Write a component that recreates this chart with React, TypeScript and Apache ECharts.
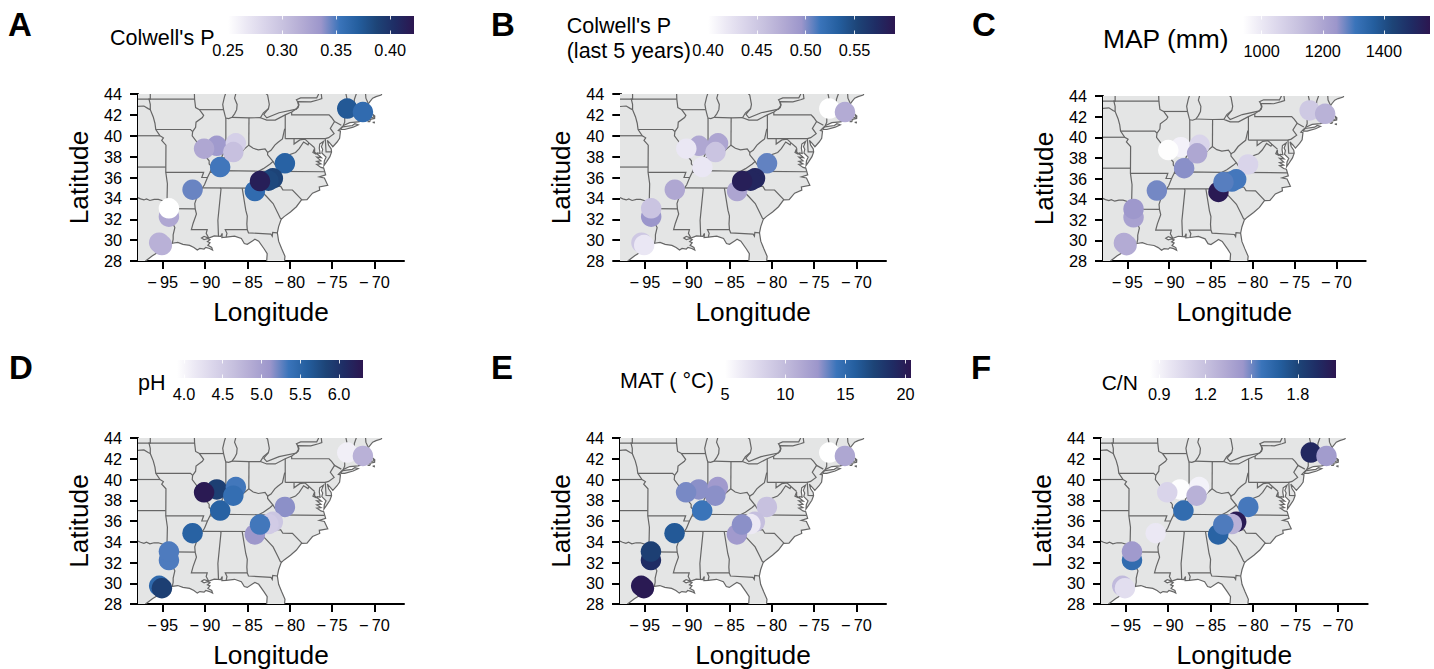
import React, { useEffect, useRef } from "react";
import * as echarts from "echarts";

const FONT = "'Liberation Sans', Arial, sans-serif";

// Colour ramp, evenly spaced from low to high
const ramp = ["#ffffff", "#ebe8f4", "#d9d4ea", "#c7c1df", "#b3abd4", "#9c96cb", "#3a74ba", "#245e9e", "#1d4477", "#1f2c64", "#2c1650"];

// Sites (longitude, latitude)
const siteLon = [-73.2, -71.35, -80.56, -81.98, -82.5, -83.5, -84.1, -91.46, -88.2, -90.1, -88.6, -86.35, -86.65, -94.25, -94.25, -95.4, -95.08];
const siteLat = [42.6, 42.27, 37.36, 35.92, 35.7, 35.66, 34.7, 34.83, 37.0, 38.76, 39.04, 39.27, 38.44, 33.05, 32.24, 29.75, 29.53];
const drawOrder = [0, 1, 2, 3, 4, 6, 5, 7, 8, 10, 9, 11, 12, 14, 13, 15, 16];

// Panel values, same site order
const colwellP = [0.374, 0.36, 0.367, 0.388, 0.385, 0.415, 0.36, 0.345, 0.352, 0.322, 0.333, 0.288, 0.302, 0.25, 0.322, 0.314, 0.314];
const colwellP5 = [0.4, 0.477, 0.507, 0.578, 0.578, 0.584, 0.482, 0.48, 0.42, 0.42, 0.48, 0.482, 0.454, 0.454, 0.496, 0.45, 0.42];
const mapMm = [1098, 1165, 1061, 1300, 1300, 1288, 1540, 1270, 1257, 942, 975, 1061, 1196, 1239, 1214, 1184, 1184];
const pH = [4.08, 4.8, 5.15, 4.56, 4.5, 5.33, 5.1, 5.55, 5.55, 6.27, 5.88, 5.33, 5.42, 5.3, 5.3, 5.47, 5.88];
const matC = [5, 11.5, 9.6, 9.8, 6.5, 13, 12.4, 16.1, 14.3, 13.3, 13, 12.4, 13, 17.7, 18.9, 20.1, 20.2];
const cn = [1.95, 1.41, 1.55, 2.02, 1.29, 1.54, 1.66, 0.96, 1.61, 1.08, 0.85, 0.91, 1.29, 1.42, 1.61, 1.24, 1.02];

// Axis ticks
const lonTicks = [-95, -90, -85, -80, -75, -70];
const latTicks = [28, 30, 32, 34, 36, 38, 40, 42, 44];
const ticksA = [0.25, 0.3, 0.35, 0.4];
const ticksB = [0.4, 0.45, 0.5, 0.55];
const ticksC = [1000, 1200, 1400];
const ticksD = [4, 4.5, 5, 5.5, 6];
const ticksE = [5, 10, 15, 20];
const ticksF = [0.9, 1.2, 1.5, 1.8];

// Base map, [lon, lat]
const coast = [[-69, 44.2], [-69.2, 43.9], [-69.8, 43.75], [-70.2, 43.6], [-70.55, 43.25], [-70.7, 43.07], [-70.82, 42.85], [-70.6, 42.65], [-71, 42.32], [-70.7, 42.2], [-70.6, 41.95], [-70.3, 41.74], [-70.03, 41.8], [-70.2, 42.07], [-69.95, 41.9], [-69.97, 41.66], [-70.6, 41.55], [-71, 41.5], [-71.2, 41.5], [-71.35, 41.75], [-71.45, 41.42], [-71.9, 41.32], [-72.9, 41.25], [-73.65, 40.98], [-74, 40.7], [-74.25, 40.5], [-74, 40.45], [-74.1, 39.75], [-74.4, 39.4], [-74.9, 38.95], [-75.2, 39.25], [-75.55, 39.55], [-75.4, 39.1], [-75.1, 38.75], [-75.05, 38.45], [-75.25, 38.0], [-75.65, 37.5], [-75.95, 37.15], [-75.9, 37.6], [-75.7, 37.95], [-76.2, 38.35], [-76.1, 38.7], [-76.25, 38.95], [-76, 39.45], [-76.45, 39.2], [-76.5, 38.8], [-76.4, 38.3], [-76.7, 38.35], [-76.9, 38.25], [-77.25, 38.4], [-77.05, 38.8], [-77.05, 38.42], [-76.6, 38.15], [-76.25, 37.9], [-76.8, 37.95], [-76.3, 37.6], [-76.8, 37.55], [-76.3, 37.3], [-76.8, 37.25], [-76.3, 36.97], [-75.98, 36.9], [-75.75, 36.25], [-76.5, 36.05], [-75.9, 35.95], [-75.5, 35.25], [-76.5, 35.1], [-76.45, 34.8], [-77.3, 34.5], [-77.95, 33.87], [-78.6, 33.85], [-79.2, 33.2], [-79.9, 32.7], [-80.65, 32.25], [-81, 32], [-81.3, 31.3], [-81.45, 30.7], [-81.3, 29.9], [-80.95, 29.2], [-80.55, 28.45], [-80.6, 28.05], [-80.35, 27.5], [-82.75, 27.5], [-82.65, 28.7], [-83, 29.15], [-83.65, 29.9], [-84.1, 30.08], [-84.35, 29.95], [-85, 29.6], [-85.35, 29.68], [-85.7, 30.15], [-86.5, 30.38], [-87.5, 30.28], [-88, 30.25], [-87.95, 30.65], [-88.15, 30.35], [-88.9, 30.4], [-89.55, 30.2], [-90.1, 30.35], [-90.4, 30.2], [-90.1, 30.05], [-89.7, 30.15], [-89.4, 30.05], [-89.7, 29.85], [-89.4, 29.75], [-89.65, 29.5], [-89.2, 29.3], [-89.1, 29.05], [-89.45, 29.2], [-89.9, 29.3], [-90.1, 29.15], [-90.6, 29.2], [-90.9, 29.05], [-91.3, 29.3], [-91.8, 29.5], [-92.2, 29.55], [-92.6, 29.6], [-93.2, 29.78], [-93.85, 29.7], [-94.7, 29.35], [-95.2, 29], [-96.2, 28.5], [-97, 28], [-97.3, 27.5], [-99, 27.5], [-99, 45], [-69, 45], [-69, 44.2]];
const longIsland = [[-74.03, 40.6], [-73.75, 40.85], [-72.6, 40.98], [-72.3, 41.15], [-71.9, 41.05], [-72.5, 40.82], [-73.5, 40.6], [-74.03, 40.6]];
const islands = [[[-70.8, 41.36], [-70.5, 41.42], [-70.55, 41.35], [-70.8, 41.36]], [[-70.2, 41.28], [-70, 41.3], [-70, 41.24], [-70.2, 41.28]]];

const borders = [
  coast.slice(0, 123),
  [[-98, 42.8], [-97.2, 42.85], [-96.7, 42.6], [-96.45, 42.5]],
  [[-96.45, 44.2], [-96.45, 43.5], [-96.6, 43.5], [-96.45, 43], [-96.45, 42.5], [-96.1, 41.8], [-95.9, 41.2], [-95.8, 40.6], [-95.3, 40], [-94.9, 39.8], [-95.1, 39.55], [-94.6, 39.1], [-94.62, 36.5], [-94.43, 35.4], [-94.48, 33.64]],
  [[-98, 43.5], [-91.22, 43.5]],
  [[-98, 40], [-95.3, 40]],
  [[-98, 37], [-94.62, 37]],
  [[-94.62, 36.5], [-90.15, 36.5], [-90.37, 36], [-89.7, 36]],
  [[-91.25, 44.2], [-91.22, 43.5], [-91.1, 42.7], [-90.65, 42.5], [-90.15, 41.95], [-90.3, 41.75], [-91.05, 41.3], [-91.1, 40.8], [-91.45, 40.4], [-91.5, 40], [-91, 39.45], [-90.7, 39], [-90.2, 38.8], [-90.2, 38.4], [-89.9, 38], [-89.5, 37.6], [-89.5, 37.3], [-89.15, 37], [-89.4, 36.5], [-89.7, 36], [-90.05, 35.3], [-90.3, 35], [-90.6, 34.6], [-91, 34], [-91.2, 33.5], [-91.15, 33], [-91, 32.5], [-91.4, 31.6], [-91.6, 31], [-89.73, 31], [-89.85, 30.65], [-89.55, 30.2]],
  [[-95.8, 40.6], [-91.7, 40.6], [-91.45, 40.4]],
  [[-90.65, 42.5], [-87.8, 42.5]],
  [[-87.5, 44.2], [-87.7, 43.7], [-87.9, 43], [-87.8, 42.5], [-87.6, 41.85], [-87.53, 41.7], [-87.2, 41.65], [-86.8, 41.77], [-86.5, 42.1], [-86.25, 42.5], [-86.2, 43], [-86.5, 43.6], [-86.3, 44.2]],
  [[-87.53, 41.7], [-87.53, 39.35], [-87.6, 39.1], [-87.5, 38.7], [-87.95, 38.1], [-88.05, 37.8]],
  [[-86.8, 41.77], [-84.8, 41.72], [-83.45, 41.73]],
  [[-84.8, 41.72], [-84.82, 39.1]],
  [[-89.15, 37], [-88.5, 37.1], [-88.05, 37.8], [-87.5, 37.95], [-86.8, 37.95], [-86.3, 38.1], [-85.8, 38.3], [-85.4, 38.7], [-84.82, 39.1], [-84.3, 38.8], [-83.7, 38.65], [-82.9, 38.75], [-82.6, 38.4], [-82.2, 38.6], [-81.75, 39.1], [-81.4, 39.35], [-80.85, 39.7], [-80.6, 40.6], [-80.52, 40.64]],
  [[-80.52, 39.72], [-80.52, 42]],
  [[-83, 44.2], [-82.6, 43.9], [-82.4, 43], [-82.5, 42.6], [-83.1, 42.2], [-83.45, 41.73], [-82.7, 41.5], [-81.7, 41.5], [-80.52, 42], [-79.76, 42.27], [-79, 42.7], [-78.9, 43], [-79.05, 43.27], [-77.5, 43.25], [-76.6, 43.45], [-76.2, 43.55], [-76.3, 44.2]],
  [[-82.5, 42.6], [-83.05, 42.05], [-82.7, 41.72], [-81.25, 42.2], [-79.2, 42.55], [-78.95, 42.9], [-79.05, 43.27], [-79.2, 43.45], [-78.7, 43.63], [-76.8, 43.63], [-76.45, 44.2]],
  [[-89.4, 36.5], [-88.05, 36.5], [-88.05, 36.65], [-83.68, 36.6], [-81.68, 36.59], [-75.9, 36.55]],
  [[-83.68, 36.6], [-83.1, 36.85], [-82.3, 37.3], [-81.97, 37.54], [-82.6, 38.17], [-82.6, 38.4]],
  [[-81.97, 37.54], [-81.7, 37.2], [-81.2, 37.25], [-80.3, 37.5], [-79.95, 38.2], [-79.3, 38.4], [-78.87, 38.76], [-78.35, 39.4], [-77.83, 39.13], [-77.72, 39.32]],
  [[-79.48, 39.72], [-79.48, 39.2], [-78.8, 39.6], [-78.2, 39.68], [-77.72, 39.32], [-77.05, 38.85]],
  [[-80.52, 39.72], [-75.79, 39.72], [-75.7, 38.46], [-75.05, 38.45]],
  [[-75.79, 39.72], [-75.4, 39.82], [-74.75, 40.2], [-75.2, 40.7], [-74.7, 41.36], [-73.9, 41]],
  [[-79.76, 42.27], [-79.76, 42], [-75.35, 42], [-75.05, 41.75], [-74.7, 41.36]],
  [[-73.65, 41], [-73.5, 41.3], [-73.5, 42.05], [-73.27, 42.75], [-73.25, 43.6], [-73.4, 44.2]],
  [[-73.5, 42.05], [-71.38, 42.02], [-71.2, 41.5]],
  [[-71.8, 42.02], [-71.85, 41.32]],
  [[-73.27, 42.75], [-71.3, 42.7], [-70.85, 42.87]],
  [[-72.45, 42.73], [-72.35, 43.5], [-72.05, 44.2]],
  [[-70.7, 43.07], [-71, 43.6], [-71.05, 44.2]],
  [[-81.68, 36.59], [-82, 36.1], [-82.6, 36], [-83.1, 35.75], [-84, 35.4], [-84.32, 34.99]],
  [[-90.3, 35], [-84.32, 34.99], [-83.1, 35]],
  [[-83.1, 35], [-82.4, 35.2], [-81.05, 35.15], [-80.8, 34.82], [-79.67, 34.8], [-78.55, 33.86]],
  [[-83.1, 35], [-83.35, 34.7], [-82.75, 34.2], [-81.95, 33.5], [-81.4, 32.6], [-81.1, 32.1], [-80.9, 32.03]],
  [[-85.6, 34.98], [-85.18, 32.87], [-85, 32.3], [-85.05, 31.55], [-85, 31], [-84.86, 30.7], [-82.2, 30.57], [-82.05, 30.37], [-82, 30.75], [-81.45, 30.7]],
  [[-85, 31], [-87.6, 31], [-87.4, 30.65], [-87.5, 30.28]],
  [[-88.2, 35], [-88.1, 34.9], [-88.47, 31.9], [-88.4, 30.35]],
  [[-94.04, 33.02], [-91.15, 33]],
  [[-98, 34.1], [-97.6, 33.95], [-97.2, 33.85], [-96.9, 33.95], [-96.5, 33.8], [-96, 33.9], [-95.5, 33.9], [-94.9, 33.75], [-94.48, 33.64], [-94.04, 33.55], [-94.04, 32], [-93.55, 31.2], [-93.75, 30.5], [-93.75, 30.1], [-93.85, 29.7]],
  longIsland,
  ...islands,
];

const landParts = [coast, longIsland, ...islands];

type Panel = {
  letter: string; values: number[]; ticks: number[]; min: number; max: number;
  grid: number[]; bar: number[]; labelMargin: number; labelDigits: number;
  title: { text: string; x: number; y: number; size: number }[]; letterPos: number[];
};

const panels: Panel[] = [
  { letter: "A", values: colwellP, ticks: ticksA, min: 0.25, max: 0.422, grid: [138, 94, 404, 261], bar: [228, 16, 414, 34], labelMargin: 8, labelDigits: 2, title: [{ text: "Colwell's P", x: 110, y: 38, size: 21.5 }], letterPos: [8, 25] },
  { letter: "B", values: colwellP5, ticks: ticksB, min: 0.4, max: 0.5915, grid: [620.3, 94, 886, 261], bar: [708, 16, 895, 34], labelMargin: 8, labelDigits: 2, title: [{ text: "Colwell's P", x: 566.7, y: 26, size: 21.5 }, { text: "(last 5 years)", x: 566.7, y: 51, size: 21.5 }], letterPos: [491, 25] },
  { letter: "C", values: mapMm, ticks: ticksC, min: 939, max: 1551, grid: [1103, 96, 1365.7, 261], bar: [1243, 16, 1430, 34], labelMargin: 9, labelDigits: 0, title: [{ text: "MAP (mm)", x: 1103, y: 39, size: 26.4 }], letterPos: [972, 25] },
  { letter: "D", values: pH, ticks: ticksD, min: 3.91, max: 6.31, grid: [138, 438, 404, 605], bar: [177, 360, 363, 378], labelMargin: 8, labelDigits: 1, title: [{ text: "pH", x: 138, y: 383, size: 21.5 }], letterPos: [9, 368] },
  { letter: "E", values: matC, ticks: ticksE, min: 5, max: 20.45, grid: [620, 438, 886, 605], bar: [725, 360, 911, 378], labelMargin: 8, labelDigits: 0, title: [{ text: "MAT ( °C)", x: 620, y: 381, size: 21.5 }], letterPos: [491, 368] },
  { letter: "F", values: cn, ticks: ticksF, min: 0.84, max: 2.047, grid: [1101, 438, 1367.7, 605], bar: [1150, 360, 1336, 378], labelMargin: 8, labelDigits: 1, title: [{ text: "C/N", x: 1101.7, y: 382.5, size: 21 }], letterPos: [971, 368] },
];

const W = 1434;
const H = 669;

function buildOption() {
  const grids: any[] = [];
  const xAxes: any[] = [];
  const yAxes: any[] = [];
  const series: any[] = [];
  const visualMaps: any[] = [];
  const graphics: any[] = [];

  panels.forEach((p) => {
    const gi = grids.length;
    grids.push({ left: p.grid[0], top: p.grid[1], width: p.grid[2] - p.grid[0], height: p.grid[3] - p.grid[1], show: false });
    const axisLine = { show: true, onZero: false, lineStyle: { color: "#000", width: 2 } };
    const axisTick = { show: true, length: 8, lineStyle: { color: "#000", width: 2 } };
    xAxes.push({
      gridIndex: gi, type: "value", min: -97.9, max: -66.5, position: "bottom",
      name: "Longitude", nameLocation: "middle", nameGap: 38,
      nameTextStyle: { fontFamily: FONT, fontSize: 26.3, color: "#000" },
      axisLine,
      axisTick: { ...axisTick, customValues: lonTicks },
      axisLabel: { customValues: lonTicks, fontFamily: FONT, fontSize: 16.3, color: "#000", margin: 13, formatter: (v: number) => "\u2212\u2009" + Math.abs(v) },
      splitLine: { show: false },
    });
    yAxes.push({
      gridIndex: gi, type: "value", min: 28, max: 44, interval: 2, position: "left",
      name: "Latitude", nameLocation: "middle", nameGap: 46,
      nameTextStyle: { fontFamily: FONT, fontSize: 26.3, color: "#000" },
      axisLine, axisTick,
      axisLabel: { fontFamily: FONT, fontSize: 16.3, color: "#000", margin: 16, customValues: latTicks },
      splitLine: { show: false },
    });
    series.push({
      type: "custom", xAxisIndex: gi, yAxisIndex: gi, clip: true, silent: true, z: 1,
      data: [[-80, 36]],
      renderItem: (_: any, api: any) => ({
        type: "group",
        children: landParts.map((part) => ({
          type: "polygon",
          shape: { points: part.map((c) => api.coord(c)) },
          style: { fill: "#e4e5e5", stroke: null },
        })),
      }),
    });
    series.push({
      type: "custom", xAxisIndex: gi, yAxisIndex: gi, clip: true, silent: true, z: 2,
      data: [[-80, 36]],
      renderItem: (_: any, api: any) => ({
        type: "group",
        children: borders.map((line) => ({
          type: "polyline",
          shape: { points: line.map((c) => api.coord(c)) },
          style: { fill: null, stroke: "#666666", lineWidth: 1.2 },
        })),
      }),
    });
    const scatterIndex = series.length;
    series.push({
      type: "scatter", xAxisIndex: gi, yAxisIndex: gi, z: 3, symbolSize: 20.5, clip: false,
      itemStyle: { opacity: 1 },
      data: drawOrder.map((i) => [siteLon[i], siteLat[i], p.values[i]]),
    });
    visualMaps.push({ type: "continuous", show: false, seriesIndex: scatterIndex, dimension: 2, min: p.min, max: p.max, inRange: { color: ramp } });
  });

  panels.forEach((p) => {
    const gi = grids.length;
    grids.push({
      left: p.bar[0], top: p.bar[1], width: p.bar[2] - p.bar[0], height: p.bar[3] - p.bar[1], show: true, borderWidth: 0,
      backgroundColor: {
        type: "linear", x: 0, y: 0, x2: 1, y2: 0,
        colorStops: ramp.map((color, i) => ({ offset: i / (ramp.length - 1), color })),
      },
    });
    const tick = { show: true, inside: true, length: 3.5, customValues: p.ticks, lineStyle: { color: "rgba(255,255,255,0.85)", width: 1 } };
    xAxes.push({
      gridIndex: gi, type: "value", min: p.min, max: p.max, position: "bottom",
      axisLine: { show: false }, axisTick: tick, splitLine: { show: false },
      axisLabel: { customValues: p.ticks, fontFamily: FONT, fontSize: 16.3, color: "#000", margin: p.labelMargin, formatter: (v: number) => v.toFixed(p.labelDigits) },
    });
    xAxes.push({
      gridIndex: gi, type: "value", min: p.min, max: p.max, position: "top",
      axisLine: { show: false }, axisTick: tick, splitLine: { show: false }, axisLabel: { show: false },
    });
    yAxes.push({ gridIndex: gi, type: "value", show: false, min: 0, max: 1 });

    graphics.push({
      type: "text", left: p.letterPos[0], top: p.letterPos[1] - 17,
      style: { text: p.letter, fontFamily: FONT, fontWeight: "bold", fontSize: 33, fill: "#000" },
    });
    p.title.forEach((t) => {
      graphics.push({
        type: "text", x: t.x, y: t.y,
        style: { text: t.text, fontFamily: FONT, fontSize: t.size, fill: "#000", verticalAlign: "middle", align: "left" },
      });
    });
  });

  return {
    animation: false,
    backgroundColor: "#fff",
    grid: grids,
    xAxis: xAxes,
    yAxis: yAxes,
    series,
    visualMap: visualMaps,
    graphic: graphics,
  };
}

export default function App() {
  const ref = useRef<HTMLDivElement>(null);
  useEffect(() => {
    document.body.style.margin = "0";
    const chart = echarts.init(ref.current!, undefined, { renderer: "svg", width: W, height: H });
    chart.setOption(buildOption() as any);
    return () => chart.dispose();
  }, []);
  return <div ref={ref} style={{ width: W, height: H }} />;
}
